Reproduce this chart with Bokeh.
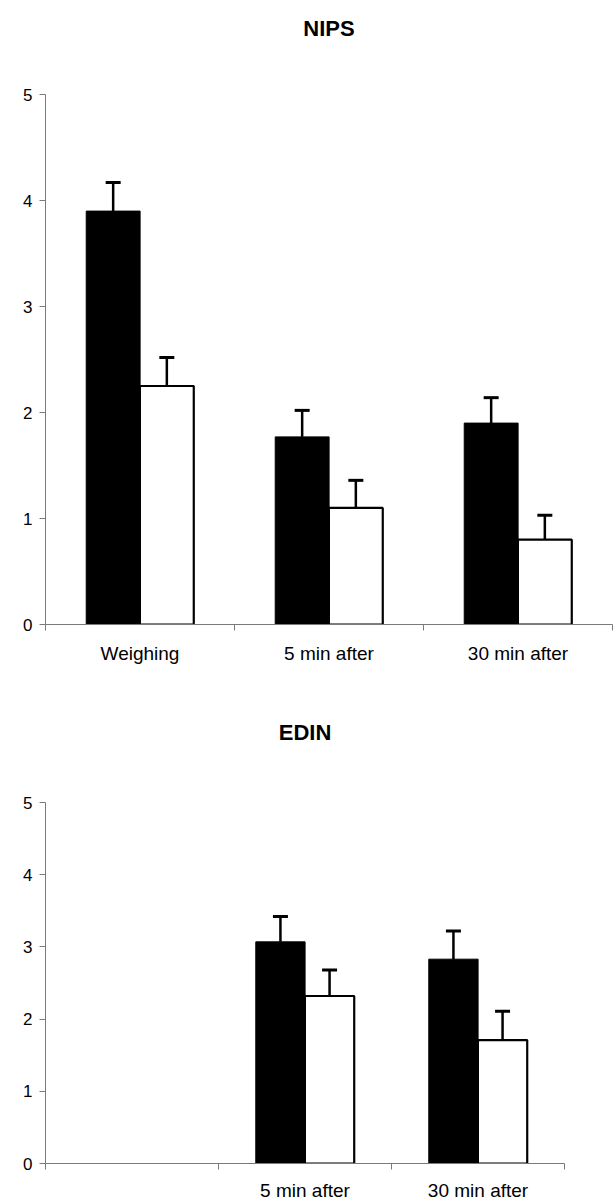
from bokeh.plotting import figure
from bokeh.models import FixedTicker, Range1d, LinearAxis
from bokeh.embed import file_html
from bokeh.resources import INLINE

# ---- data ----
categories = ["Weighing", "5 min after", "30 min after"]

nips_black = [3.90, 1.77, 1.90]
nips_black_err = [0.27, 0.25, 0.24]
nips_white = [2.25, 1.10, 0.80]
nips_white_err = [0.27, 0.26, 0.23]

edin_categories = ["", "5 min after", "30 min after"]
edin_black = [None, 3.07, 2.83]
edin_black_err = [None, 0.35, 0.39]
edin_white = [None, 2.32, 1.71]
edin_white_err = [None, 0.36, 0.40]

y_ticks = [0, 1, 2, 3, 4, 5]

FONT = "Liberation Sans"
AXIS_COLOR = "#7a7a7a"
OFF = 0.142
BW = 0.285


def make_fig(title, cats, black, black_err, white, white_err, width, height,
             mb_left, mb_right, mb_top, mb_bottom, title_gap, x_standoff):
    p = figure(width=width, height=height, x_range=Range1d(0, len(cats)),
               y_range=Range1d(0, 5), output_backend="svg",
               toolbar_location=None, min_border_left=mb_left,
               min_border_right=mb_right, min_border_top=mb_top,
               min_border_bottom=mb_bottom)
    p.title.visible = False

    # title drawn as the label of an empty axis above the frame
    tax = LinearAxis(ticker=FixedTicker(ticks=[], minor_ticks=[]),
                     axis_line_color=None, major_tick_line_color=None,
                     minor_tick_line_color=None, major_tick_out=0,
                     major_tick_in=0, minor_tick_out=0, minor_tick_in=0,
                     axis_label=title, axis_label_text_font=FONT,
                     axis_label_text_font_size="22px",
                     axis_label_text_font_style="bold",
                     axis_label_text_color="black",
                     axis_label_standoff=title_gap)
    p.add_layout(tax, "above")

    p.grid.visible = False
    p.outline_line_color = None

    centers = [i + 0.5 for i in range(len(cats))]
    xa = p.below[0]
    xa.ticker = FixedTicker(ticks=centers, minor_ticks=list(range(len(cats) + 1)))
    xa.major_label_overrides = {c: lab for c, lab in zip(centers, cats)}
    xa.major_tick_line_color = None
    xa.major_tick_out = 0
    xa.major_tick_in = 0
    xa.minor_tick_out = 6
    xa.minor_tick_in = 0
    xa.minor_tick_line_color = AXIS_COLOR
    xa.axis_line_color = AXIS_COLOR
    xa.major_label_standoff = x_standoff
    xa.major_label_text_font_size = "19px"

    ya = p.left[0]
    ya.ticker = FixedTicker(ticks=y_ticks, minor_ticks=[])
    ya.major_tick_out = 6
    ya.major_tick_in = 0
    ya.major_tick_line_color = AXIS_COLOR
    ya.axis_line_color = AXIS_COLOR
    ya.major_label_standoff = 7
    ya.major_label_text_font_size = "17px"

    for ax in (xa, ya):
        ax.major_label_text_font = FONT
        ax.major_label_text_color = "black"

    bx, bt, bt_e = [], [], []
    wx, wt, wt_e = [], [], []
    for c, b, be, w, we in zip(centers, black, black_err, white, white_err):
        if b is not None:
            bx.append(c - OFF); bt.append(b); bt_e.append(b + be)
        if w is not None:
            wx.append(c + OFF); wt.append(w); wt_e.append(w + we)

    p.vbar(x=bx, top=bt, bottom=0, width=BW, fill_color="black",
           line_color="black", line_width=1)
    p.vbar(x=wx, top=wt, bottom=0, width=BW, fill_color="white",
           line_color="black", line_width=2.2)

    for xs, tops, ends in ((bx, bt, bt_e), (wx, wt, wt_e)):
        p.segment(x0=xs, y0=tops, x1=xs, y1=ends, line_color="black",
                  line_width=2.5)
        p.scatter(x=xs, y=ends, marker="dash", size=15, line_color="black",
                  line_width=3)
    return p


p1 = make_fig("NIPS", categories, nips_black, nips_black_err, nips_white,
              nips_white_err, width=615, height=684, mb_left=45, mb_right=3,
              mb_top=94, mb_bottom=60, title_gap=54, x_standoff=12)
p2 = make_fig("EDIN", edin_categories, edin_black, edin_black_err, edin_white,
              edin_white_err, width=615, height=519, mb_left=45, mb_right=51,
              mb_top=118, mb_bottom=40, title_gap=58, x_standoff=10)

open("out.html", "w").write(file_html([p1, p2], INLINE))
